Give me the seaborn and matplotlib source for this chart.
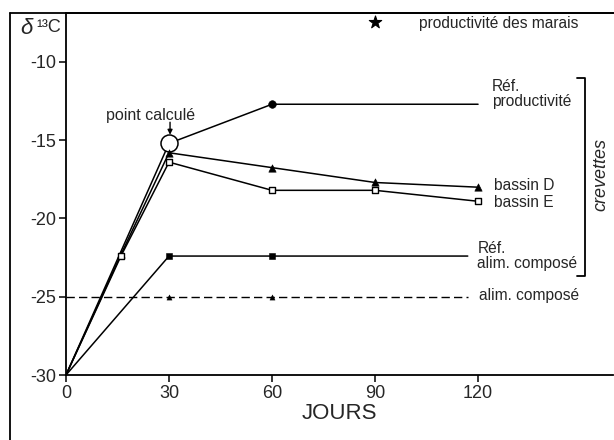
import numpy as np
import matplotlib.pyplot as plt
from matplotlib.lines import Line2D
import seaborn as sns

# Données (jours, delta 13C)
jours_prod = [0, 30, 60, 120]
ref_productivite = [-30, -15.2, -12.7, -12.7]

jours_bassin = [0, 16, 30, 60, 90, 120]
bassin_D = [-30, -22.3, -15.8, -16.75, -17.7, -18.0]
bassin_E = [-30, -22.4, -16.4, -18.2, -18.2, -18.9]

jours_alim = [0, 30, 60, 117]
ref_alim = [-30, -22.4, -22.4, -22.4]

jours_alim_comp = [0, 117]
alim_compose = [-25, -25]
jours_alim_pts = [30, 60]
alim_pts = [-25, -25]

marais_jour = [90]
marais_val = [-7.45]

xticks = [0, 30, 60, 90, 120]
yticks = [-10, -15, -20, -25, -30]

sns.set_style("ticks")
plt.rcParams['font.family'] = ['Liberation Sans', 'DejaVu Sans']

fig = plt.figure(figsize=(6.14, 4.40), dpi=100)
ax = fig.add_axes([66 / 614, 1 - 375 / 440, (613 - 66) / 614, (375 - 13) / 440])

lw = 1.1
# lignes
sns.lineplot(x=jours_prod, y=ref_productivite, color='black', lw=lw, sort=False, ax=ax)
sns.lineplot(x=jours_bassin, y=bassin_D, color='black', lw=lw, sort=False, ax=ax)
sns.lineplot(x=jours_bassin, y=bassin_E, color='black', lw=lw, sort=False, ax=ax)
sns.lineplot(x=jours_alim, y=ref_alim, color='black', lw=lw, sort=False, ax=ax)
sns.lineplot(x=jours_alim_comp, y=alim_compose, color='black', lw=1.0, sort=False,
             linestyle=(0, (6, 3)), ax=ax)

# marqueurs
sns.scatterplot(x=jours_prod[1:2], y=ref_productivite[1:2], marker='o', s=150,
                color='white', edgecolor='black', linewidth=1.1, zorder=5, ax=ax)
sns.scatterplot(x=jours_prod[2:3], y=ref_productivite[2:3], marker='o', s=30,
                color='black', edgecolor='black', zorder=5, ax=ax)
sns.scatterplot(x=jours_bassin[1:], y=bassin_D[1:], marker='^', s=28,
                color='black', edgecolor='black', zorder=5, ax=ax)
sns.scatterplot(x=jours_bassin[1:], y=bassin_E[1:], marker='s', s=22,
                color='white', edgecolor='black', linewidth=1, zorder=5, ax=ax)
sns.scatterplot(x=jours_alim[1:3], y=ref_alim[1:3], marker='s', s=24,
                color='black', edgecolor='black', zorder=5, ax=ax)
sns.scatterplot(x=jours_alim_pts, y=alim_pts, marker='^', s=14,
                color='black', edgecolor='black', zorder=5, ax=ax)
sns.scatterplot(x=marais_jour, y=marais_val, marker='*', s=90,
                color='black', edgecolor='black', zorder=5, ax=ax)

ax.set_xlim(0, 159.3)
ax.set_ylim(-30, -6.87)
ax.set_xticks(xticks)
ax.set_xticklabels([str(t) for t in xticks], fontsize=13)
ax.set_yticks(yticks)
ax.set_yticklabels([str(t) for t in yticks], fontsize=13)
ax.tick_params(direction='out', length=5, width=1.1, color='black', pad=2)
ax.set_xlabel('JOURS', fontsize=16, labelpad=1)
ax.set_ylabel('')
for s in ['left', 'bottom', 'top']:
    ax.spines[s].set_linewidth(1.3)
    ax.spines[s].set_color('black')
ax.spines['right'].set_visible(False)

# textes
fs = 11.2
ax.text(102.9, -7.55, 'productivité des marais', fontsize=fs, ha='left', va='center')
ax.text(124.1, -12.05, 'Réf.\nproductivité', fontsize=fs, ha='left', va='center', linespacing=1.05)
ax.text(124.7, -17.86, 'bassin D', fontsize=fs, ha='left', va='center')
ax.text(124.7, -19.0, 'bassin E', fontsize=fs, ha='left', va='center')
ax.text(119.8, -22.4, 'Réf.\nalim. composé', fontsize=fs, ha='left', va='center', linespacing=1.05)
ax.text(120.3, -24.95, 'alim. composé', fontsize=fs, ha='left', va='center')
ax.text(24.5, -13.45, 'point calculé', fontsize=11.5, ha='center', va='center')
ax.annotate('', xy=(30.3, -14.65), xytext=(30.3, -13.85),
            arrowprops=dict(arrowstyle='-|>', color='black', lw=1, mutation_scale=7,
                            shrinkA=0, shrinkB=0))

# accolade "crevettes"
bx, btop, bbot, bw = 151.2, -11.0, -23.7, 2.3
ax.plot([bx - bw, bx, bx, bx - bw], [btop, btop, bbot, bbot], color='black', lw=1.3,
        clip_on=False)
ax.text(155.8, -17.2, 'crevettes', fontsize=13, style='italic', rotation=90,
        ha='center', va='center')

fig.text(20 / 614, 1 - 28 / 440, 'δ', fontsize=16, style='italic', ha='left', va='center')
fig.text(36 / 614, 1 - 27 / 440, '¹³C', fontsize=13, ha='left', va='center')

# cadre extérieur
fig.add_artist(Line2D([10 / 614, 10 / 614], [0, 1 - 13 / 440], color='black', lw=1.3))
fig.add_artist(Line2D([10 / 614, 1], [1 - 13 / 440, 1 - 13 / 440], color='black', lw=1.3))

fig.savefig('out.png', dpi=100)
